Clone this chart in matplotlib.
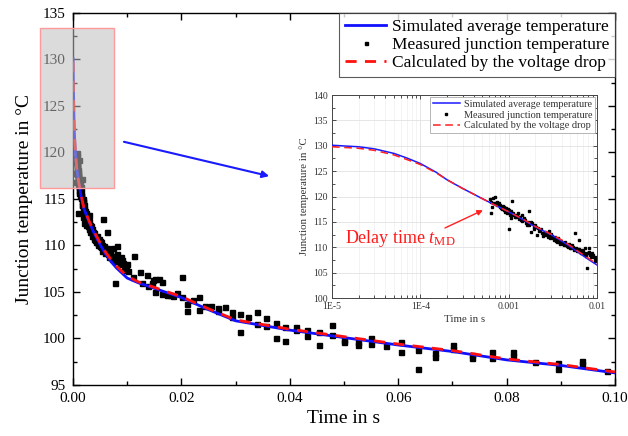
import matplotlib
matplotlib.use('Agg')
import matplotlib.pyplot as plt
from matplotlib.patches import Rectangle
from matplotlib.ticker import MultipleLocator, FixedLocator, FixedFormatter, LogLocator, NullFormatter

plt.rcParams['font.family'] = ['Liberation Serif', 'DejaVu Serif']
plt.rcParams['mathtext.fontset'] = 'custom'
plt.rcParams['mathtext.rm'] = 'Liberation Serif'
plt.rcParams['mathtext.it'] = 'Liberation Serif:italic'

# ---------------- data ----------------
t_sim = [1e-5, 2e-5, 3e-5, 5e-5, 7e-5, 1e-4, 1.5e-4, 2e-4, 3e-4, 5e-4, 7e-4, 1e-3,
         1.5e-3, 2e-3, 3e-3, 4e-3, 5e-3, 6e-3, 7e-3, 8e-3, 1e-2, 0.012, 0.015, 0.02,
         0.025, 0.03, 0.035, 0.04, 0.05, 0.06, 0.07, 0.08, 0.09, 0.1]
T_sim = [130.1, 129.8, 129.4, 128.5, 127.6, 126.5, 124.8, 123.3, 121.6, 119.6, 118.3, 117.0,
         115.3, 114.0, 112.5, 111.2, 110.1, 109.1, 108.3, 107.6, 106.5, 106.0, 105.4, 104.4,
         103.1, 101.9, 101.4, 100.9, 100.1, 99.3, 98.6, 97.7, 97.1, 96.3]
T_calc = [129.8, 129.5, 129.1, 128.2, 127.3, 126.3, 124.7, 123.3, 121.6, 119.6, 118.3, 117.0,
          115.4, 114.1, 112.6, 111.4, 110.3, 109.3, 108.5, 107.8, 106.7, 106.1, 105.5, 104.5,
          103.2, 102.0, 101.5, 101.0, 100.2, 99.4, 98.7, 97.8, 97.2, 96.4]

t_meas = [6.20e-4, 6.36e-4, 6.59e-4, 6.76e-4, 7.06e-4, 7.19e-4, 7.38e-4, 6.47e-4, 6.36e-4, 7.70e-4,
          8.05e-4, 8.26e-4, 8.55e-4, 8.78e-4, 9.01e-4, 9.33e-4, 9.57e-4, 1.000e-3, 1.044e-3, 1.091e-3,
          1.072e-3, 1.017e-3, 1.110e-3, 1.169e-3, 1.211e-3, 1.275e-3, 1.320e-3, 1.367e-3, 1.415e-3, 1.478e-3,
          1.544e-3, 1.613e-3, 1.684e-3, 1.656e-3, 1.759e-3, 1.837e-3, 1.805e-3, 1.918e-3, 2.004e-3, 2.093e-3,
          2.148e-3, 2.283e-3, 2.384e-3, 2.426e-3, 2.556e-3, 2.647e-3, 2.788e-3, 2.887e-3, 2.963e-3, 3.095e-3,
          3.232e-3, 3.376e-3, 3.526e-3, 3.683e-3, 3.846e-3, 4.017e-3, 4.195e-3, 4.382e-3, 4.576e-3, 4.779e-3,
          4.992e-3, 5.214e-3, 5.444e-3, 5.589e-3, 5.787e-3, 6.094e-3, 6.311e-3, 6.479e-3, 6.766e-3, 7.067e-3,
          7.381e-3, 7.709e-3, 8.051e-3, 8.192e-3, 8.409e-3, 8.783e-3, 9.172e-3, 9.579e-3, 7.709e-3, 9.416e-3,
          7.4e-4, 7.9e-4, 8.4e-4, 8.9e-4, 9.4e-4, 9.8e-4, 1.03e-3, 1.06e-3, 1.12e-3, 1.18e-3,
          1.24e-3, 1.30e-3, 1.35e-3, 1.43e-3, 1.50e-3, 1.58e-3, 1.70e-3, 1.78e-3, 1.95e-3, 2.05e-3,
          2.2e-3, 2.35e-3, 2.5e-3, 2.7e-3, 2.85e-3, 3.0e-3, 3.15e-3, 3.3e-3, 3.45e-3, 3.6e-3,
          3.75e-3, 3.9e-3, 4.1e-3, 4.3e-3, 4.5e-3, 4.7e-3, 4.9e-3, 5.1e-3, 5.3e-3, 5.6e-3,
          5.9e-3, 6.2e-3, 6.6e-3, 6.9e-3, 7.2e-3, 7.5e-3, 7.9e-3, 8.6e-3, 9.0e-3, 9.8e-3, 9.9e-3,
          0.0102, 0.0111, 0.0113, 0.0124, 0.0127, 0.0136, 0.0139, 0.0145, 0.0148, 0.0151,
          0.0151, 0.0159, 0.0165, 0.0165, 0.0173, 0.0179, 0.0184, 0.0191, 0.0201, 0.0202,
          0.0211, 0.0211, 0.0221, 0.0232, 0.0232, 0.0243, 0.0255, 0.0268, 0.0268, 0.0281,
          0.0294, 0.0294, 0.0309, 0.0309, 0.0323, 0.0340, 0.0340, 0.0356, 0.0356, 0.0374,
          0.0374, 0.0392, 0.0392, 0.0411, 0.0411, 0.0432, 0.0432, 0.0454, 0.0454, 0.0477,
          0.0477, 0.0500, 0.0500, 0.0525, 0.0525, 0.0550, 0.0550, 0.0578, 0.0606, 0.0606,
          0.0637, 0.0637, 0.0668, 0.0668, 0.0702, 0.0702, 0.0737, 0.0737, 0.0773, 0.0773,
          0.0811, 0.0811, 0.0852, 0.0894, 0.0894, 0.0939, 0.0939, 0.0985]
T_meas = [119.42, 118.96, 119.62, 118.63, 119.95, 118.76, 118.30, 117.84, 116.79, 118.63,
          117.98, 117.65, 118.11, 117.32, 116.99, 117.65, 116.66, 117.32, 116.33, 119.16,
          115.67, 113.50, 116.79, 116.33, 116.00, 116.66, 115.87, 115.35, 116.33, 115.48,
          115.35, 114.36, 117.19, 115.02, 114.69, 114.82, 113.05, 114.03, 114.36, 112.39,
          113.70, 113.37, 112.72, 112.19, 113.05, 112.39, 112.06, 113.24, 111.73, 112.19,
          111.40, 111.66, 111.07, 111.40, 110.74, 110.87, 110.41, 111.07, 110.22, 110.74,
          109.95, 110.41, 109.43, 112.85, 109.95, 109.56, 111.40, 109.10, 109.43, 108.90,
          109.76, 108.77, 109.10, 109.95, 108.44, 108.77, 108.11, 107.79, 106.01, 107.33,
          119.0, 118.4, 117.5, 117.9, 117.1, 117.6, 116.9, 117.2, 116.4, 115.9,
          116.3, 115.6, 116.0, 115.1, 115.7, 114.8, 114.4, 115.0, 113.6, 113.9,
          113.2, 113.5, 112.6, 112.9, 112.3, 112.6, 111.9, 112.1, 111.3, 111.8,
          111.0, 111.3, 110.6, 110.9, 110.4, 110.1, 110.5, 109.8, 110.0, 109.7,
          109.2, 109.7, 108.8, 109.2, 108.6, 108.3, 108.9, 108.0, 108.4, 107.6, 108.0,
          107.3, 106.6, 108.9, 107.1, 106.0, 106.8, 105.6, 106.0, 106.3, 106.4,
          105.0, 106.4, 106.1, 104.8, 104.7, 104.7, 104.6, 104.9, 104.5, 106.6,
          103.7, 103.0, 104.1, 104.5, 103.1, 103.5, 103.5, 103.3, 103.0, 103.4,
          102.9, 102.3, 102.6, 100.75, 102.3, 102.9, 101.6, 102.2, 101.3, 101.7,
          100.0, 101.2, 99.75, 101.2, 100.9, 100.9, 100.3, 100.7, 99.25, 101.5,
          100.4, 99.8, 99.6, 99.6, 99.3, 100.0, 99.4, 99.2, 99.6, 98.5,
          98.8, 96.75, 98.4, 98.0, 99.3, 98.9, 98.2, 97.9, 98.5, 97.9,
          98.6, 98.1, 97.5, 97.4, 96.75, 97.6, 97.3, 96.5]

labels = ['Simulated average temperature', 'Measured junction temperature',
          'Calculated by the voltage drop']
inset_xticks = [1e-5, 1e-4, 1e-3, 1e-2]
inset_xticklabels = ['1E-5', '1E-4', '0.001', '0.01']

# ---------------- figure ----------------
fig = plt.figure(figsize=(6.28, 4.36), dpi=100)
ax = fig.add_axes([0.1162, 0.1170, 0.8631, 0.8532])

ax.plot(t_meas, T_meas, linestyle='none', marker='s', ms=3.6, color='black',
        zorder=2, label=labels[1])
l1, = ax.plot(t_sim, T_sim, color='#1010ff', lw=2.0, zorder=3, label=labels[0])
l2, = ax.plot(t_sim, T_calc, color='#ff1010', lw=2.0, ls=(0, (4, 3)), zorder=4, label=labels[2])

ax.set_xlim(0, 0.1)
ax.set_ylim(95, 135)
ax.xaxis.set_major_locator(MultipleLocator(0.02))
ax.xaxis.set_minor_locator(MultipleLocator(0.01))
ax.yaxis.set_major_locator(MultipleLocator(5))
ax.yaxis.set_minor_locator(MultipleLocator(2.5))
ax.xaxis.set_major_formatter(matplotlib.ticker.FormatStrFormatter('%.2f'))
ax.tick_params(which='both', direction='in', top=True, right=True, labelsize=11,
               width=1.0, pad=5)
ax.tick_params(which='major', length=5)
ax.tick_params(which='minor', length=3)
for s in ax.spines.values():
    s.set_linewidth(1.0)
ax.set_xlabel('Time in s', fontsize=14, labelpad=4)
ax.set_ylabel('Junction temperature in °C', fontsize=14, labelpad=7)

h = ax.get_legend_handles_labels()
hd = dict(zip(h[1], h[0]))
leg = ax.legend([hd[l] for l in labels], labels, loc='upper right', fontsize=12.5,
                frameon=True, fancybox=False, edgecolor='#333333', borderaxespad=0,
                handlelength=2.4, handletextpad=0.3, labelspacing=0.1, borderpad=0.35,
                markerscale=0.6)
leg.get_frame().set_linewidth(0.8)
leg.set_zorder(10)

# shaded zoom region
rect = Rectangle((-0.0061, 116.22), 0.0137, 17.14, facecolor=(0.74, 0.74, 0.74), alpha=0.54,
                 edgecolor='none', clip_on=False, zorder=6)
ax.add_patch(rect)
rect2 = Rectangle((-0.0061, 116.22), 0.0137, 17.14, facecolor='none',
                  edgecolor='#ff9a9a', lw=1.0, clip_on=False, zorder=7)
ax.add_patch(rect2)

ax.annotate('', xy=(0.0362, 117.46), xytext=(0.0094, 121.15),
            arrowprops=dict(arrowstyle='-|>', color='#1a1aff', lw=1.5,
                            mutation_scale=10, shrinkA=0, shrinkB=0), zorder=8)

# ---------------- inset ----------------
axi = fig.add_axes([0.5287, 0.3165, 0.4220, 0.4656])
axi.set_xscale('log')
axi.grid(which='major', color='#e2e2e2', lw=0.6)
axi.grid(which='minor', axis='x', color='#eeeeee', lw=0.5)
axi.set_axisbelow(True)
t_in = [t for t in t_meas if t <= 0.01]
T_in = [T for t, T in zip(t_meas, T_meas) if t <= 0.01]
axi.plot(t_in, T_in, linestyle='none', marker='s', ms=1.6, color='black', zorder=2)
axi.plot(t_sim, T_sim, color='#1a1aff', lw=1.1, zorder=3)
axi.plot(t_sim, T_calc, color='#ff2020', lw=1.1, ls=(0, (5, 3)), zorder=4)
axi.set_xlim(1e-5, 1e-2)
axi.set_ylim(100, 140)
axi.xaxis.set_major_locator(FixedLocator(inset_xticks))
axi.xaxis.set_major_formatter(FixedFormatter(inset_xticklabels))
axi.xaxis.set_minor_locator(LogLocator(base=10, subs=range(2, 10)))
axi.xaxis.set_minor_formatter(NullFormatter())
axi.yaxis.set_major_locator(MultipleLocator(5))
axi.yaxis.set_minor_locator(MultipleLocator(2.5))
axi.tick_params(which='both', direction='in', top=True, right=True, labelsize=7,
                colors='#333333', width=0.6, pad=3)
axi.tick_params(which='major', length=3)
axi.tick_params(which='minor', length=2)
for s in axi.spines.values():
    s.set_linewidth(0.7)
    s.set_color('#444444')
axi.set_xlabel('Time in s', fontsize=7.8, color='#333333', labelpad=3)
axi.set_ylabel('Junction temperature in °C', fontsize=7.8, color='#333333', labelpad=3)

hi = [plt.Line2D([], [], color='#1a1aff', lw=1.1),
      plt.Line2D([], [], ls='none', marker='s', ms=1.6, color='black'),
      plt.Line2D([], [], color='#ff2020', lw=1.1, ls=(0, (5, 3)))]
legi = axi.legend(hi, labels, loc='upper right', fontsize=7.4, frameon=True, fancybox=False,
                  edgecolor='#aaaaaa', borderaxespad=0.15, handlelength=2.6,
                  handletextpad=0.4, labelspacing=0.15, borderpad=0.3, framealpha=1)
legi.get_frame().set_linewidth(0.6)
for txt in legi.get_texts():
    txt.set_color('#333333')

axi.annotate('', xy=(5.1e-4, 117.3), xytext=(1.9e-4, 113.8),
             arrowprops=dict(arrowstyle='-|>', color='#ff2020', lw=1.0,
                             mutation_scale=8, shrinkA=0, shrinkB=0), zorder=8)
axi.text(1.40e-5, 110.8, r'Delay time $\mathit{t}_{\mathrm{MD}}$', color='#ff1a1a',
         fontsize=13, ha='left', va='baseline')

fig.savefig('out.png', dpi=100)
